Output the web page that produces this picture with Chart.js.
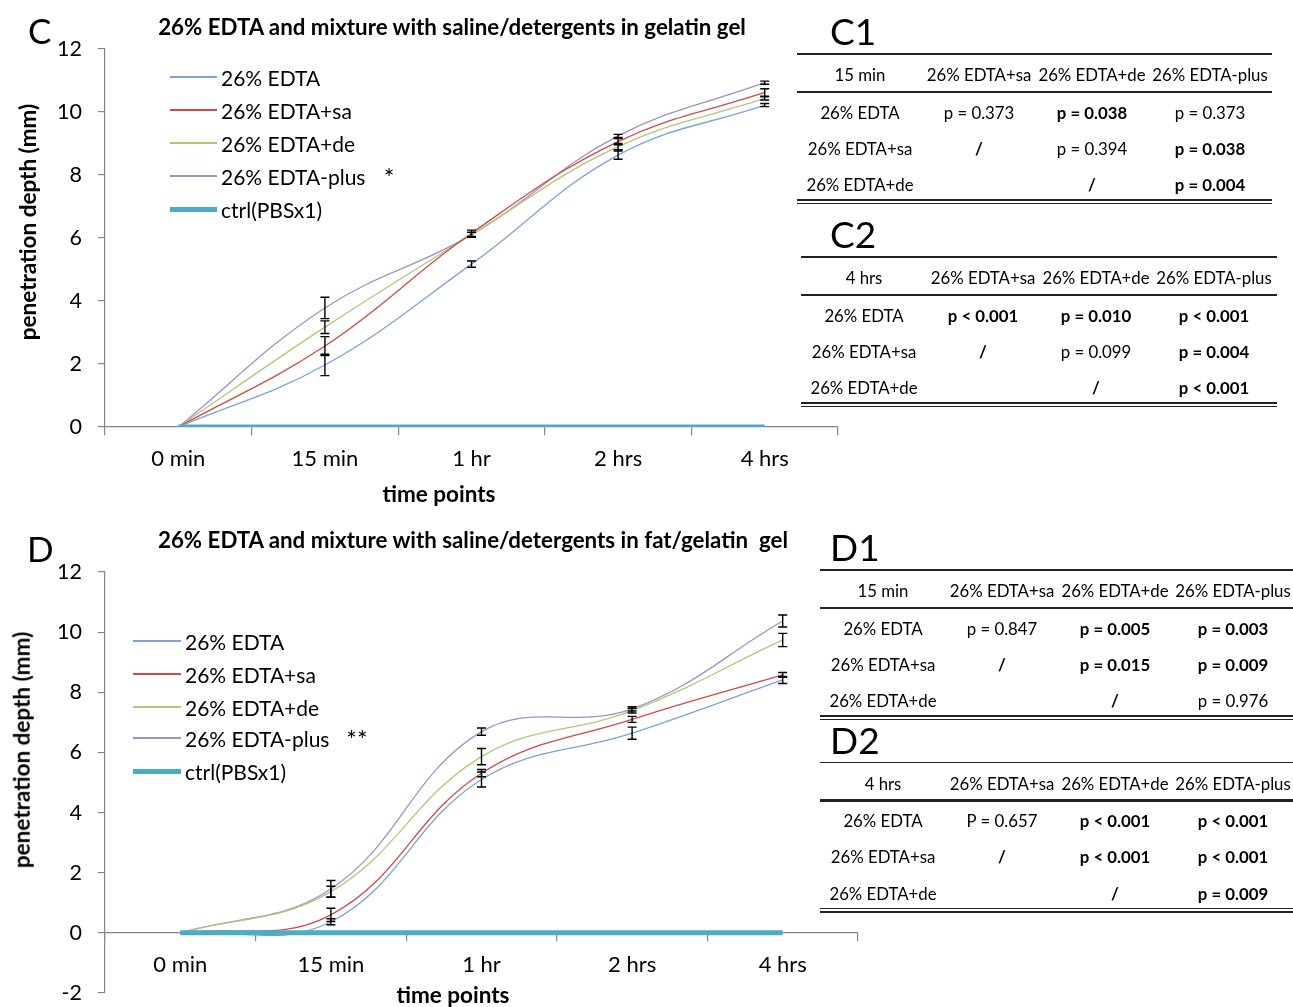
<!DOCTYPE html>
<html>
<head>
<meta charset="utf-8">
<script src="https://cdn.jsdelivr.net/npm/chart.js@4.4.1/dist/chart.umd.min.js"></script>
<style>
  body { margin: 0; background: #fff; font-family: Lato, sans-serif; color: #000; }
  #page { position: relative; width: 1293px; height: 1007px; overflow: hidden; background: #fff; }
  canvas { position: absolute; }
  .t { position: absolute; white-space: pre; line-height: 1; }
  .rule { position: absolute; background: #222; }
</style>
</head>
<body>
<div id="page">
  <canvas id="chartC" width="860" height="515" style="left:0;top:0"></canvas>
  <canvas id="chartD" width="880" height="492" style="left:0;top:515px"></canvas>
</div>
<script>
const timeLabels = ['0 min', '15 min', '1 hr', '2 hrs', '4 hrs'];
const seriesNames = ['26% EDTA', '26% EDTA+sa', '26% EDTA+de', '26% EDTA-plus', 'ctrl(PBSx1)'];
const seriesColors = ['#7DA3D6', '#CC4B48', '#AFC87A', '#A191C5', '#4BACC6'];

// C: gelatin gel (mm)
const gelEdta = [0, 1.97, 5.17, 8.63, 10.22];
const gelSa   = [0, 2.57, 6.15, 9.06, 10.62];
const gelDe   = [0, 3.17, 6.10, 8.90, 10.43];
const gelPlus = [0, 3.78, 6.10, 9.24, 10.93];
const gelCtrl = [0, 0, 0, 0, 0];
const gelEdtaErr = [0, 0.34, 0.10, 0.13, 0.05];
const gelSaErr   = [0, 0.30, 0.10, 0.10, 0.12];
const gelDeErr   = [0, 0.20, 0.08, 0.10, 0.05];
const gelPlusErr = [0, 0.34, 0.08, 0.05, 0.05];

// D: fat/gelatin gel (mm)
const fatEdta = [0, 0.37, 5.10, 6.64, 8.41];
const fatSa   = [0, 0.60, 5.31, 7.10, 8.58];
const fatDe   = [0, 1.37, 5.86, 7.39, 9.74];
const fatPlus = [0, 1.46, 6.69, 7.45, 10.37];
const fatCtrl = [0, 0, 0, 0, 0];
const fatEdtaErr = [0, 0.10, 0.25, 0.20, 0.12];
const fatSaErr   = [0, 0.22, 0.12, 0.10, 0.08];
const fatDeErr   = [0, 0.18, 0.27, 0.08, 0.22];
const fatPlusErr = [0, 0.28, 0.12, 0.07, 0.20];

// p-value tables
const tableHeadC1 = ['15 min', '26% EDTA+sa', '26% EDTA+de', '26% EDTA-plus'];
const tableRowsC1 = [
  ['26% EDTA', 'p = 0.373', 'p = 0.038', 'p = 0.373'],
  ['26% EDTA+sa', '/', 'p = 0.394', 'p = 0.038'],
  ['26% EDTA+de', '', '/', 'p = 0.004']
];
const tableHeadC2 = ['4 hrs', '26% EDTA+sa', '26% EDTA+de', '26% EDTA-plus'];
const tableRowsC2 = [
  ['26% EDTA', 'p < 0.001', 'p = 0.010', 'p < 0.001'],
  ['26% EDTA+sa', '/', 'p = 0.099', 'p = 0.004'],
  ['26% EDTA+de', '', '/', 'p < 0.001']
];
const tableHeadD1 = ['15 min', '26% EDTA+sa', '26% EDTA+de', '26% EDTA-plus'];
const tableRowsD1 = [
  ['26% EDTA', 'p = 0.847', 'p = 0.005', 'p = 0.003'],
  ['26% EDTA+sa', '/', 'p = 0.015', 'p = 0.009'],
  ['26% EDTA+de', '', '/', 'p = 0.976']
];
const tableHeadD2 = ['4 hrs', '26% EDTA+sa', '26% EDTA+de', '26% EDTA-plus'];
const tableRowsD2 = [
  ['26% EDTA', 'P = 0.657', 'p < 0.001', 'p < 0.001'],
  ['26% EDTA+sa', '/', 'p < 0.001', 'p < 0.001'],
  ['26% EDTA+de', '', '/', 'p = 0.009']
];

const page = document.getElementById('page');

function addText(str, x, y, o = {}) {
  const d = document.createElement('div');
  d.className = 't';
  d.textContent = str;
  d.style.left = x + 'px';
  d.style.top = y + 'px';
  d.style.fontSize = (o.size || 19) + 'px';
  if (o.bold) d.style.fontWeight = 'bold';
  const ax = o.align === 'left' ? '0' : o.align === 'right' ? '-100%' : '-50%';
  d.style.transform = `translate(${ax},-50%)` + (o.rotate ? ` rotate(${o.rotate}deg)` : '');
  page.appendChild(d);
}

function addRule(x, y, w, h, color) {
  const d = document.createElement('div');
  d.className = 'rule';
  d.style.left = x + 'px';
  d.style.top = (y - h / 2) + 'px';
  d.style.width = w + 'px';
  d.style.height = h + 'px';
  if (color) d.style.background = color;
  page.appendChild(d);
}

function isBold(s) {
  if (s === '/') return true;
  const m = s.match(/([<=])\s*([\d.]+)/);
  if (!m) return false;
  return m[1] === '<' || parseFloat(m[2]) < 0.05;
}

const colCenters = [63, 182, 295, 413];

function addTable(label, labelX, x, top, width, head, rows) {
  addText(label, labelX, top - 24, { size: 37, align: 'left' });
  addRule(x, top, width, 1.3);
  head.forEach((h, i) => addText(h, x + colCenters[i], top + 21, { size: 16.8 }));
  addRule(x, top + 38, width, 2.6);
  const rowY = [58.5, 94.5, 131];
  rows.forEach((r, ri) => {
    r.forEach((c, ci) => {
      if (c) addText(c, x + colCenters[ci], top + rowY[ri], { size: 16.8, bold: ci > 0 && isBold(c) });
    });
  });
  addRule(x, top + 146, width, 1.3);
  addRule(x, top + 149.5, width, 1.3);
}

function addLegend(x, rowsY, textX, star, starX) {
  seriesNames.forEach((name, i) => {
    const ctrl = i === 4;
    addRule(x, rowsY[i], textX - x - 4, ctrl ? 5 : 1.3, seriesColors[i]);
    addText(name, textX, rowsY[i], { size: 21, align: 'left' });
  });
  addText(star, starX, rowsY[3] + 1, { size: 25 });
}

const errorBars = {
  id: 'errorBars',
  afterDatasetsDraw(chart) {
    const ctx = chart.ctx;
    const yScale = chart.scales.y;
    ctx.save();
    ctx.strokeStyle = '#000';
    ctx.lineWidth = 1.4;
    chart.data.datasets.forEach((ds, i) => {
      if (!ds.errors) return;
      const meta = chart.getDatasetMeta(i);
      ds.errors.forEach((e, j) => {
        if (!e) return;
        const x = meta.data[j].x;
        const y1 = yScale.getPixelForValue(ds.data[j] + e);
        const y2 = yScale.getPixelForValue(ds.data[j] - e);
        ctx.beginPath();
        ctx.moveTo(x, y1); ctx.lineTo(x, y2);
        ctx.moveTo(x - 4.5, y1); ctx.lineTo(x + 4.5, y1);
        ctx.moveTo(x - 4.5, y2); ctx.lineTo(x + 4.5, y2);
        ctx.stroke();
      });
    });
    ctx.restore();
  }
};

function makeChart(id, values, errors, yMin, padding) {
  const datasets = values.map((v, i) => ({
    label: seriesNames[i],
    data: v,
    errors: errors[i],
    borderColor: seriesColors[i],
    borderWidth: i === 4 ? 5 : 1.3,
    tension: i === 4 ? 0 : 0.4,
    pointRadius: 0,
    fill: false,
    order: i === 4 ? 0 : 1
  }));
  const axisGrey = '#868686';
  return new Chart(document.getElementById(id).getContext('2d'), {
    type: 'line',
    data: { labels: timeLabels, datasets },
    options: {
      responsive: false,
      animation: false,
      devicePixelRatio: 1,
      layout: { padding },
      plugins: { legend: { display: false }, tooltip: { enabled: false } },
      scales: {
        x: {
          position: { y: 0 },
          offset: true,
          grid: { offset: true, drawOnChartArea: false, tickLength: 8, color: axisGrey, lineWidth: 1.2 },
          border: { color: axisGrey, width: 1.2 },
          ticks: { color: '#000', font: { family: 'Lato', size: 22 }, padding: 11, maxRotation: 0 },
          afterFit: s => { s.paddingTop = 0; s.paddingBottom = 0; }
        },
        y: {
          min: yMin,
          max: 12,
          ticks: { stepSize: 2, color: '#000', font: { family: 'Lato', size: 21.5 }, padding: 16 },
          grid: { drawOnChartArea: false, tickLength: 7, color: axisGrey, lineWidth: 1.2 },
          border: { color: axisGrey, width: 1.2 },
          afterFit: s => { s.width = 105; s.paddingTop = 0; s.paddingBottom = 0; }
        }
      }
    },
    plugins: [errorBars]
  });
}

makeChart('chartC',
  [gelEdta, gelSa, gelDe, gelPlus, gelCtrl],
  [gelEdtaErr, gelSaErr, gelDeErr, gelPlusErr, null],
  0, { top: 49, right: 22, bottom: 88, left: 0 });

makeChart('chartD',
  [fatEdta, fatSa, fatDe, fatPlus, fatCtrl],
  [fatEdtaErr, fatSaErr, fatDeErr, fatPlusErr, null],
  -2, { top: 57, right: 22, bottom: 14, left: 0 });

// panel C text
addText('C', 28, 30, { size: 35, align: 'left' });
addText('26% EDTA and mixture with saline/detergents in gelatin gel', 452, 27, { size: 22.3, bold: true });
addText('penetration depth (mm)', 28, 222, { size: 22.5, bold: true, rotate: -90 });
addText('time points', 439, 494, { size: 22.5, bold: true });
addLegend(170, [77, 110, 143, 176, 209], 221, '*', 389);

// panel D text
addText('D', 27, 548, { size: 35, align: 'left' });
addText('26% EDTA and mixture with saline/detergents in fat/gelatin  gel', 473, 540, { size: 22.3, bold: true });
addText('penetration depth (mm)', 22, 750, { size: 22.5, bold: true, rotate: -90 });
addText('time points', 453, 995, { size: 22.5, bold: true });
addLegend(133, [641, 674, 707, 738, 771], 185, '**', 357);

// tables
addTable('C1', 830, 797, 54, 475, tableHeadC1, tableRowsC1);
addTable('C2', 830, 801, 257, 476, tableHeadC2, tableRowsC2);
addTable('D1', 830, 820, 570, 480, tableHeadD1, tableRowsD1);
addTable('D2', 830, 820, 762.5, 480, tableHeadD2, tableRowsD2);
</script>
</body>
</html>
